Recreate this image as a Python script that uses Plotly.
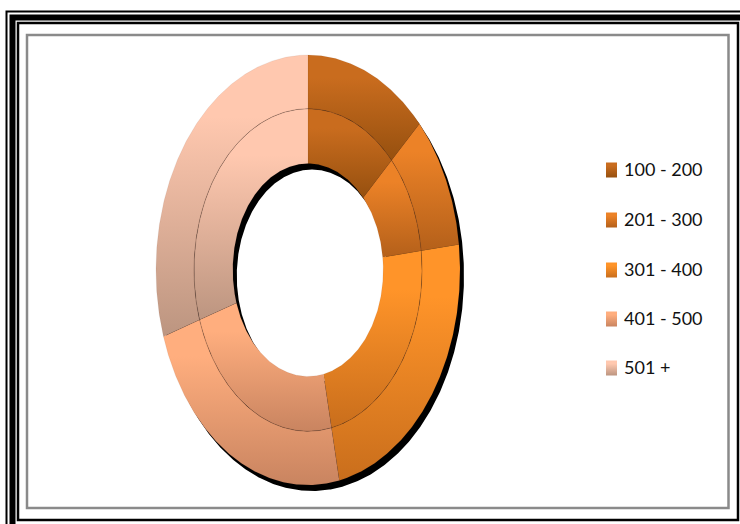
import numpy as np
import plotly.graph_objects as go

W, H = 740, 524

# Share of each size band; both rings carry the same split
categories = ["100 - 200", "201 - 300", "301 - 400", "401 - 500", "501 +"]
outer_ring = [13.1, 10.0, 23.6, 23.3, 30.0]
inner_ring = [13.1, 10.0, 23.6, 23.3, 30.0]
top_colors = ["#C96C1E", "#EC8227", "#FF9429", "#FFAE7E", "#FFC8AF"]
bottom_colors = ["#96500F", "#B4601A", "#C96E1C", "#C98460", "#BC9580"]

# The ring is stretched vertically: one data unit spans more pixels on y than on x
CX, CY, RX, RY = 308, 270, 152, 215
x_range = [-CX / RX, (W - CX) / RX]
y_range = [-(H - CY) / RY, CY / RY]


def px_x(p):
    return (p - CX) / RX


def px_y(p):
    return (CY - p) / RY


def sector(a0, a1, r0, r1):
    t = np.radians(np.linspace(a0, a1, max(int(a1 - a0) * 2, 2) + 1))
    xs = np.r_[r1 * np.sin(t), r0 * np.sin(t[::-1])]
    ys = np.r_[r1 * np.cos(t), r0 * np.cos(t[::-1])]
    return np.r_[xs, xs[0]], np.r_[ys, ys[0]]


def gradient(i):
    # Scale position 0 sits at the foot of the shape on a vertical gradient
    return dict(type="vertical",
                colorscale=[[0, bottom_colors[i]], [0.78, top_colors[i]], [1, top_colors[i]]])


fig = go.Figure()

# Drop shadow of the whole ring
sx, sy = sector(0, 360, 0.495, 1)
fig.add_trace(go.Scatter(x=sx + 4 / RX, y=sy - 6 / RY, mode="lines", fill="toself",
                         fillcolor="#000000", line=dict(width=0), hoverinfo="skip",
                         showlegend=False))


def add_ring(values, r0, r1):
    edges = np.r_[0, np.cumsum(values)] / np.sum(values) * 360
    for i, name in enumerate(categories):
        x, y = sector(edges[i], edges[i + 1], r0, r1)
        fig.add_trace(go.Scatter(x=x, y=y, mode="lines", fill="toself", name=name,
                                 fillgradient=gradient(i),
                                 line=dict(width=0.5, color="rgba(90,60,40,0.15)"),
                                 showlegend=False))


add_ring(outer_ring, 0.75, 1)
add_ring(inner_ring, 0.495, 0.75)

# Colour keys with their labels
annotations = []
key_rows = [170, 220, 270, 319, 368]
for i, (name, row) in enumerate(zip(categories, key_rows)):
    kx = [px_x(606), px_x(617), px_x(617), px_x(606), px_x(606)]
    ky = [px_y(row - 7.5), px_y(row - 7.5), px_y(row + 7.5), px_y(row + 7.5), px_y(row - 7.5)]
    fig.add_trace(go.Scatter(x=kx, y=ky, mode="lines", fill="toself", name=name,
                             fillgradient=gradient(i), line=dict(width=0),
                             hoverinfo="skip", showlegend=False))
    annotations.append(dict(x=px_x(622), y=px_y(row - 1), text=name, showarrow=False,
                            xanchor="left", yanchor="middle",
                            font=dict(family="Lato", size=18, color="#111111")))


def frame(l, t, r, b, color, width):
    return dict(type="rect", xref="paper", yref="paper", x0=l / W, x1=r / W,
                y0=1 - t / H, y1=1 - b / H, line=dict(color=color, width=width),
                fillcolor="rgba(0,0,0,0)")


shapes = [
    # Boundary between the two rings
    dict(type="circle", xref="x", yref="y", x0=-0.75, x1=0.75, y0=-0.75, y1=0.75,
         line=dict(color="rgba(70,50,40,0.3)", width=0.7)),
    frame(6.5, 11.5, 770, 550, "#000000", 2),
    frame(12.5, 17.5, 770, 550, "#000000", 6),
    frame(18, 23, 738, 520, "#000000", 2.5),
    frame(27, 35, 728.5, 508, "#8A8A8A", 2.5),
]

fig.update_layout(
    width=W, height=H, margin=dict(l=0, r=0, t=0, b=0),
    paper_bgcolor="white", plot_bgcolor="white", showlegend=False,
    xaxis=dict(range=x_range, visible=False, fixedrange=True),
    yaxis=dict(range=y_range, visible=False, fixedrange=True),
    shapes=shapes, annotations=annotations,
)

fig.write_html("out.html")
